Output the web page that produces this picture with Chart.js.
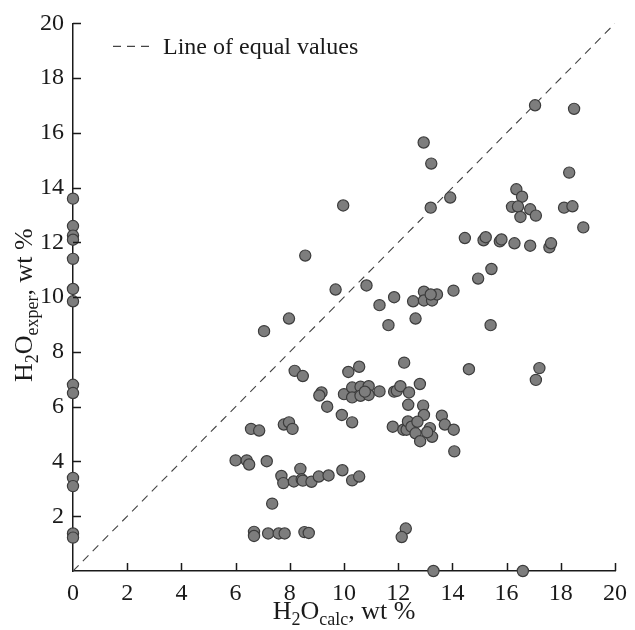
<!DOCTYPE html>
<html>
<head>
<meta charset="utf-8">
<script src="https://cdn.jsdelivr.net/npm/chart.js@4.4.0/dist/chart.umd.min.js"></script>
<style>
  html, body { margin: 0; padding: 0; background: #fff; }
  #wrap { position: relative; width: 635px; height: 630px; }
</style>
</head>
<body>
<div id="wrap"><canvas id="chart"></canvas></div>
<script>
// H2O, wt %: calculated (x) vs. experimental (y), one entry per sample
const h2oCalc = [
  0, 0, 0, 0, 0, 0, 0, 0, 0, 0, 0, 0, 0,
  13.3, 16.6,
  6.68, 6.68, 7.2, 7.59, 7.81, 8.54, 8.70, 12.28, 12.13, 7.35,
  7.69, 7.76, 8.15, 8.39, 8.44, 8.48, 8.80, 9.07, 9.43, 9.94, 10.30, 10.56, 6.0, 6.41, 6.5, 7.15,
  6.57, 6.87, 7.78, 7.97, 8.10,
  8.18, 8.48, 9.17, 9.09, 9.38, 9.92, 10.30, 10.0, 10.30, 10.30, 10.61, 10.61, 10.91, 10.91, 10.77, 11.31, 10.16, 10.56,
  12.22, 12.80, 11.85, 11.95, 12.08, 12.40, 12.37, 12.92, 12.95, 13.61, 13.72, 14.05, 14.07, 11.80, 12.19, 12.31, 12.36, 12.49, 12.64, 12.71, 12.81, 13.17, 13.25, 13.07,
  14.61, 17.21, 17.08,
  7.05, 7.97, 8.57, 9.69, 10.83, 11.31, 11.85, 11.64, 12.55, 12.64, 12.95, 12.95, 13.25, 13.43, 13.20, 14.04, 14.95, 15.44, 15.41, 9.97,
  14.46, 15.15, 15.23, 15.75, 15.81, 16.29, 16.87, 17.58, 17.64, 13.20, 13.92, 12.94, 13.22, 16.36, 16.57, 16.20, 16.42, 16.87, 16.51, 17.08, 18.12, 18.43, 18.83, 18.31, 17.05, 18.49
];
const h2oExper = [
  13.6, 12.6, 12.25, 12.1, 11.4, 10.3, 9.85, 6.8, 6.5, 3.4, 3.1, 1.37, 1.22,
  0, 0,
  1.43, 1.28, 1.37, 1.37, 1.37, 1.42, 1.39, 1.55, 1.24, 2.46,
  3.47, 3.21, 3.27, 3.73, 3.35, 3.30, 3.26, 3.45, 3.49, 3.68, 3.31, 3.45, 4.04, 4.04, 3.89, 4.01,
  5.19, 5.13, 5.35, 5.43, 5.19,
  7.31, 7.12, 6.52, 6.41, 6.0, 5.70, 5.43, 6.46, 6.70, 6.34, 6.73, 6.40, 6.75, 6.43, 6.55, 6.56, 7.27, 7.46,
  7.61, 6.83, 6.55, 6.58, 6.75, 6.52, 6.07, 6.04, 5.70, 5.67, 5.35, 5.16, 4.37, 5.27, 5.16, 5.16, 5.46, 5.27, 5.03, 5.45, 4.74, 5.22, 4.90, 5.07,
  7.37, 7.41, 6.98,
  8.76, 9.22, 11.52, 10.28, 10.43, 9.71, 10.0, 8.98, 9.85, 9.22, 10.20, 9.88, 9.88, 10.10, 10.10, 10.24, 10.68, 11.03, 8.98, 13.35,
  12.16, 12.08, 12.19, 12.04, 12.11, 11.97, 11.88, 11.82, 11.97, 13.27, 13.64, 15.65, 14.88, 13.94, 13.67, 13.30, 13.31, 13.21, 12.93, 12.98, 13.27, 13.32, 12.55, 14.55, 17.01, 16.88
];

const axisRange = [0, 20];
const tickValues = [2, 4, 6, 8, 10, 12, 14, 16, 18, 20];
const legendLabel = 'Line of equal values';

const SERIF = '"Liberation Serif", "DejaVu Serif", serif';
const INK = '#1a1a1a';

// text pieces with optional subscript parts, drawn left to right
function drawSubText(ctx, parts, x, y, size) {
  const subSize = Math.round(size * 0.68);
  let total = 0;
  parts.forEach(p => {
    ctx.font = (p.sub ? subSize : size) + 'px ' + SERIF;
    p.w = ctx.measureText(p.t).width;
    total += p.w;
  });
  let cx = x - total / 2;
  ctx.textAlign = 'left';
  ctx.textBaseline = 'alphabetic';
  parts.forEach(p => {
    ctx.font = (p.sub ? subSize : size) + 'px ' + SERIF;
    ctx.fillText(p.t, cx, p.sub ? y + size * 0.22 : y);
    cx += p.w;
  });
}

const decorations = {
  id: 'decorations',
  afterDraw(chart) {
    const { ctx, chartArea, scales } = chart;
    const xs = scales.x, ys = scales.y;
    ctx.save();

    // inward tick marks
    ctx.strokeStyle = INK;
    ctx.lineWidth = 1.5;
    ctx.beginPath();
    tickValues.forEach(v => {
      const px = Math.round(xs.getPixelForValue(v)) + 0.5;
      ctx.moveTo(px, chartArea.bottom);
      ctx.lineTo(px, chartArea.bottom - 8);
      const py = Math.round(ys.getPixelForValue(v)) + 0.5;
      ctx.moveTo(chartArea.left, py);
      ctx.lineTo(chartArea.left + 8, py);
    });
    ctx.stroke();

    // legend entry for the dashed line
    const ly = chartArea.top + 23;
    const lx = chartArea.left + 40;
    ctx.strokeStyle = '#444';
    ctx.lineWidth = 1.1;
    ctx.setLineDash([8, 6]);
    ctx.beginPath();
    ctx.moveTo(lx, ly);
    ctx.lineTo(lx + 40, ly);
    ctx.stroke();
    ctx.setLineDash([]);
    ctx.fillStyle = INK;
    ctx.font = '24px ' + SERIF;
    ctx.textAlign = 'left';
    ctx.textBaseline = 'middle';
    ctx.fillText(legendLabel, lx + 50, ly + 1);

    // axis titles
    ctx.fillStyle = INK;
    drawSubText(ctx, [
      { t: 'H' }, { t: '2', sub: true }, { t: 'O' }, { t: 'calc', sub: true }, { t: ', wt %' }
    ], (chartArea.left + chartArea.right) / 2, chartArea.bottom + 48, 26);

    ctx.save();
    ctx.translate(chartArea.left - 41, (chartArea.top + chartArea.bottom) / 2 + 8);
    ctx.rotate(-Math.PI / 2);
    drawSubText(ctx, [
      { t: 'H' }, { t: '2', sub: true }, { t: 'O' }, { t: 'exper', sub: true }, { t: ', wt %' }
    ], 0, 0, 26);
    ctx.restore();

    ctx.restore();
  }
};

const tickFont = { family: SERIF, size: 24 };

new Chart(document.getElementById('chart'), {
  type: 'scatter',
  data: {
    datasets: [
      {
        label: 'samples',
        data: h2oCalc.map((x, i) => ({ x: x, y: h2oExper[i] })),
        backgroundColor: '#7d7d7d',
        borderColor: '#3c3c3c',
        borderWidth: 1.2,
        pointRadius: 5.6,
        clip: false,
        order: 1
      },
      {
        type: 'line',
        label: legendLabel,
        data: axisRange.map(v => ({ x: v, y: v })),
        borderColor: '#444',
        borderWidth: 1.1,
        borderDash: [8, 6],
        pointRadius: 0,
        fill: false,
        order: 2
      }
    ]
  },
  options: {
    responsive: true,
    maintainAspectRatio: false,
    animation: false,
    layout: { padding: { top: 21, right: 14, bottom: 0, left: 0 } },
    plugins: { legend: { display: false }, tooltip: { enabled: false } },
    scales: {
      x: {
        type: 'linear',
        min: axisRange[0],
        max: axisRange[1],
        grid: { drawOnChartArea: false, drawTicks: false },
        border: { display: true, color: INK, width: 1.5 },
        ticks: { stepSize: 2, font: tickFont, color: INK, padding: 8 },
        afterFit(scale) { scale.height = 59; }
      },
      y: {
        type: 'linear',
        min: axisRange[0],
        max: axisRange[1],
        grid: { drawOnChartArea: false, drawTicks: false },
        border: { display: true, color: INK, width: 1.5 },
        ticks: {
          stepSize: 2, font: tickFont, color: INK, padding: 9,
          callback: v => (v === 0 ? '' : v)
        },
        afterFit(scale) { scale.width = 73; }
      }
    }
  },
  plugins: [decorations]
});
</script>
</body>
</html>
